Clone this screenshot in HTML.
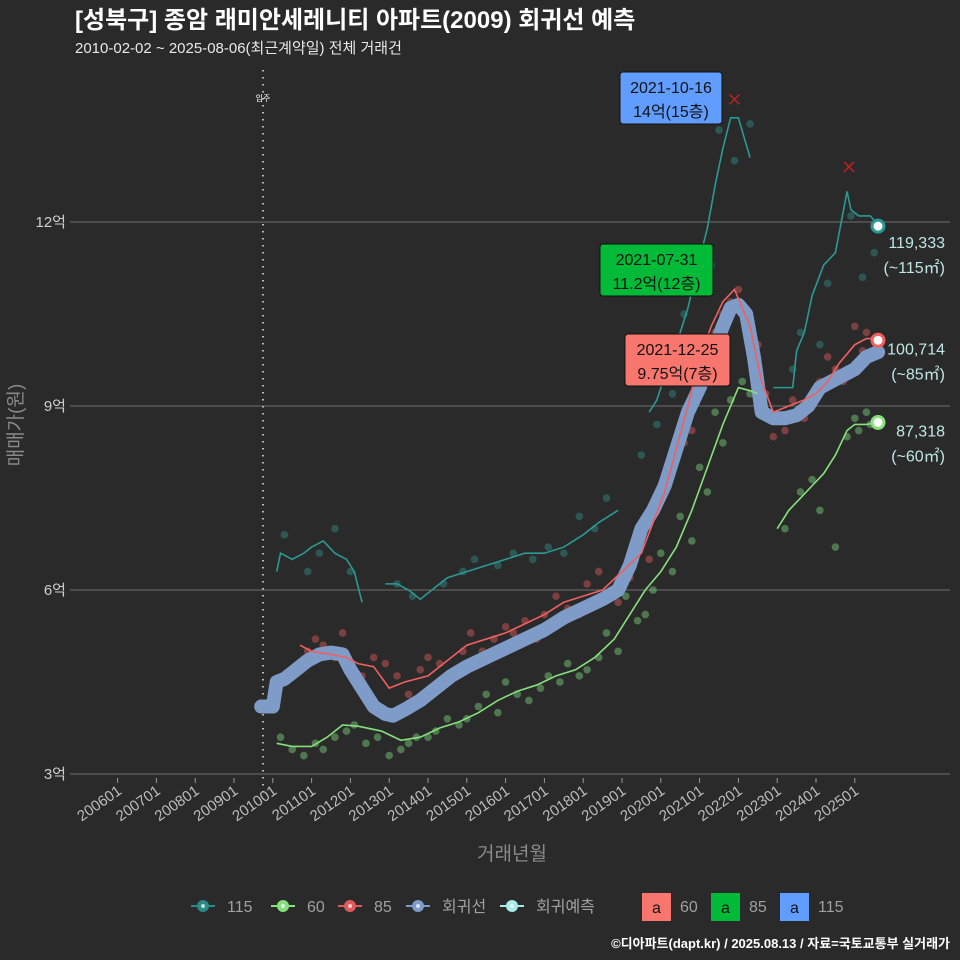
<!DOCTYPE html>
<html><head><meta charset="utf-8">
<style>
body{margin:0;background:#2a2a2b;}
svg{display:block;font-family:"Liberation Sans","Noto Sans CJK KR",sans-serif;}
</style></head>
<body>
<svg id="chart" width="960" height="960" viewBox="0 0 960 960">
<rect x="0" y="0" width="960" height="960" fill="#2a2a2b"/>
<text x="75" y="28" fill="#ffffff" font-size="24" font-weight="bold">[성북구] 종암 래미안세레니티 아파트(2009) 회귀선 예측</text>
<text x="75" y="53" fill="#e8e8e8" font-size="15">2010-02-02 ~ 2025-08-06(최근계약일) 전체 거래건</text>
<g id="grid"></g>
<g id="axes"></g>
<g id="series"></g>
<g id="notes"></g>
<text transform="translate(22,425) rotate(-90)" text-anchor="middle" fill="#8a8a8a" font-size="19">매매가(원)</text>
<text x="512" y="860" text-anchor="middle" fill="#8a8a8a" font-size="19">거래년월</text>
<g id="legend"></g>
<text x="950" y="948" text-anchor="end" fill="#ffffff" font-size="13" font-weight="bold">©디아파트(dapt.kr) / 2025.08.13 / 자료=국토교통부 실거래가</text>
</svg>
<script>
// ---- data ----
const yTicks=[3,6,9,12];
const yTickLabels=["3억","6억","9억","12억"];
const xTickYears=[2006,2007,2008,2009,2010,2011,2012,2013,2014,2015,2016,2017,2018,2019,2020,2021,2022,2023,2024,2025];
const xTickLabels=["200601","200701","200801","200901","201001","201101","201201","201301","201401","201501","201601","201701","201801","201901","202001","202101","202201","202301","202401","202501"];

const regDates=[2009.7,2009.9,2010.0,2010.1,2010.3,2010.6,2010.9,2011.2,2011.5,2011.8,2012.0,2012.3,2012.6,2012.9,2013.1,2013.4,2013.8,2014.2,2014.6,2015.0,2015.5,2016.0,2016.5,2017.0,2017.5,2018.0,2018.5,2018.9,2019.2,2019.5,2019.8,2020.1,2020.4,2020.7,2021.0,2021.3,2021.6,2021.8,2022.0,2022.2,2022.4,2022.6,2022.9,2023.2,2023.5,2023.8,2024.1,2024.4,2024.7,2025.0,2025.3,2025.6];
const regValues=[4.1,4.1,4.1,4.5,4.55,4.7,4.85,4.95,4.98,4.95,4.7,4.4,4.1,3.98,3.95,4.05,4.2,4.4,4.6,4.75,4.9,5.05,5.2,5.35,5.55,5.7,5.85,6.0,6.4,7.0,7.3,7.7,8.3,8.9,9.3,9.8,10.3,10.6,10.65,10.5,9.8,8.9,8.8,8.8,8.85,9.0,9.3,9.4,9.5,9.6,9.8,9.88];

const s115Dates=[[2010.1,2010.2,2010.5,2010.8,2011.0,2011.3,2011.6,2011.9,2012.1,2012.3],
 [2012.9,2013.2,2013.5,2013.8,2014.1,2014.5,2015.0,2015.5,2016.0,2016.5,2017.0,2017.5,2018.0,2018.4,2018.9],
 [2019.7,2019.9,2020.1,2020.4,2020.7,2021.0,2021.2,2021.4,2021.6,2021.8,2022.0,2022.3],
 [2022.9,2023.1,2023.4,2023.5,2023.7,2023.9,2024.2,2024.5,2024.8,2024.9,2025.1,2025.4,2025.6]];
const s115Values=[[6.3,6.6,6.5,6.6,6.7,6.8,6.6,6.5,6.3,5.8],
 [6.1,6.1,6.0,5.85,6.0,6.2,6.3,6.4,6.5,6.6,6.6,6.7,6.9,7.1,7.3],
 [8.9,9.1,9.5,10.0,10.6,11.4,11.9,12.6,13.2,13.7,13.7,13.05],
 [9.3,9.3,9.3,9.9,10.2,10.8,11.3,11.5,12.5,12.2,12.1,12.1,11.95]];
const s85Dates=[[2010.7,2011.0,2011.5,2011.9,2012.2,2012.6,2013.0,2013.4,2014.0,2014.5,2015.0,2015.5,2016.0,2016.5,2017.0,2017.5,2018.0,2018.5,2019.0,2019.5,2019.8,2020.1,2020.4,2020.7,2021.0,2021.3,2021.6,2021.9,2022.1,2022.3,2022.6,2022.9,2023.3,2023.7,2024.0,2024.3,2024.6,2025.0,2025.3,2025.6]];
const s85Values=[[5.1,5.0,4.95,4.9,4.8,4.75,4.4,4.5,4.6,4.85,5.1,5.2,5.3,5.45,5.6,5.8,5.9,6.0,6.3,6.6,7.1,7.6,8.3,9.0,9.8,10.3,10.7,10.9,10.6,10.3,9.4,8.9,9.0,9.1,9.2,9.4,9.7,10.0,10.1,10.1]];
const s60Dates=[[2010.1,2010.5,2011.0,2011.4,2011.8,2012.2,2012.8,2013.3,2013.8,2014.3,2014.8,2015.3,2015.8,2016.3,2016.8,2017.3,2017.8,2018.3,2018.8,2019.2,2019.6,2020.0,2020.4,2020.8,2021.2,2021.6,2022.0,2022.3,2022.5],
 [2023.0,2023.3,2023.6,2023.9,2024.2,2024.5,2024.8,2025.0,2025.3,2025.6]];
const s60Values=[[3.5,3.45,3.45,3.6,3.8,3.78,3.7,3.55,3.6,3.75,3.85,4.0,4.2,4.35,4.45,4.6,4.7,4.9,5.2,5.6,6.0,6.3,6.7,7.3,8.0,8.7,9.3,9.25,9.2],
 [7.0,7.3,7.5,7.7,7.9,8.2,8.6,8.7,8.7,8.73]];

const pts115Dates=[2010.3,2010.9,2011.6,2012.0,2011.2,2013.6,2013.2,2014.4,2014.9,2015.2,2015.8,2016.2,2016.7,2017.1,2017.5,2017.9,2018.3,2018.6,2019.5,2019.9,2020.0,2020.3,2020.6,2021.1,2021.3,2021.5,2021.9,2022.3,2023.4,2023.6,2024.1,2024.3,2024.9,2025.2,2025.5];
const pts115Values=[6.9,6.3,7.0,6.3,6.6,5.9,6.1,6.1,6.3,6.5,6.4,6.6,6.5,6.7,6.6,7.2,7.0,7.5,8.2,8.7,9.6,9.2,10.5,11.0,11.3,13.5,13.0,13.6,9.6,10.2,10.0,11.0,12.1,11.1,11.5];
const pts85Dates=[2010.9,2011.1,2011.3,2011.6,2011.8,2012.3,2012.6,2012.9,2013.2,2013.5,2013.8,2014.0,2014.3,2014.6,2014.9,2015.1,2015.4,2015.7,2016.0,2016.2,2016.5,2016.8,2017.0,2017.3,2017.6,2017.9,2018.1,2018.4,2018.7,2018.9,2019.2,2019.4,2019.7,2019.9,2020.1,2020.3,2020.6,2020.8,2021.0,2021.2,2021.4,2021.6,2021.8,2022.0,2022.3,2022.5,2022.7,2022.9,2023.2,2023.4,2023.7,2023.9,2024.1,2024.3,2024.5,2024.7,2025.0,2025.2,2025.3,2025.5];
const pts85Values=[5.0,5.2,5.1,4.9,5.3,4.6,4.9,4.8,4.6,4.3,4.7,4.9,4.8,4.6,5.0,5.3,5.0,5.2,5.4,5.3,5.5,5.2,5.6,5.9,5.7,5.6,6.1,6.3,5.9,5.8,6.2,6.9,6.5,7.3,7.6,8.1,8.4,8.6,9.2,9.9,10.2,10.5,10.7,10.9,10.4,10.0,9.2,8.5,8.6,9.1,8.8,9.0,9.4,9.8,9.6,9.4,10.3,9.9,10.2,10.1];
const pts60Dates=[2010.2,2010.5,2010.8,2011.1,2011.3,2011.6,2011.9,2012.1,2012.4,2012.7,2013.0,2013.3,2013.5,2013.7,2014.0,2014.2,2014.5,2014.8,2015.0,2015.3,2015.5,2015.8,2016.0,2016.3,2016.6,2016.9,2017.1,2017.4,2017.6,2017.9,2018.1,2018.4,2018.6,2018.9,2019.1,2019.4,2019.6,2019.8,2020.0,2020.3,2020.5,2020.8,2021.0,2021.2,2021.4,2021.6,2021.8,2022.1,2022.3,2023.2,2023.6,2023.9,2024.1,2024.5,2024.8,2025.0,2025.1,2025.3,2025.4];
const pts60Values=[3.6,3.4,3.3,3.5,3.4,3.6,3.7,3.8,3.5,3.6,3.3,3.4,3.5,3.6,3.6,3.7,3.9,3.8,3.9,4.1,4.3,4.0,4.5,4.3,4.2,4.4,4.6,4.5,4.8,4.6,4.7,4.9,5.3,5.0,5.9,5.5,5.6,6.0,6.6,6.3,7.2,6.8,8.0,7.6,8.9,8.4,9.1,9.4,9.2,7.0,7.6,7.8,7.3,6.7,8.5,8.8,8.6,8.9,8.7];

const endValues=[11.9333,10.0714,8.7318];
const endLabels=["119,333","100,714","87,318"];
const endAreas=["(~115㎡)","(~85㎡)","(~60㎡)"];
const noteDates=["2021-10-16","2021-07-31","2021-12-25"];
const noteTexts=["14억(15층)","11.2억(12층)","9.75억(7층)"];

// ---- scales ----
const X=d=>117.6+(d-2006)*38.8;
const Y=v=>774-(v-3)*61.33;
const NS="http://www.w3.org/2000/svg";
function mk(tag,attrs,parent){const e=document.createElementNS(NS,tag);for(const k in attrs)e.setAttribute(k,attrs[k]);parent.appendChild(e);return e;}
const grid=document.getElementById('grid'),axes=document.getElementById('axes'),series=document.getElementById('series'),notes=document.getElementById('notes'),legend=document.getElementById('legend');

yTicks.forEach((t,i)=>{
 const l=mk('line',{x1:70,x2:950,y1:Y(t),y2:Y(t),stroke:'#6e6e6e','stroke-width':1},grid);
 
 
 const tx=mk('text',{x:66,y:Y(t)+5,'text-anchor':'end',fill:'#cfcfcf','font-size':15},axes);
 tx.textContent=yTickLabels[i];
 
 
});
xTickYears.forEach((t,i)=>{
 const l=mk('line',{x1:X(t),x2:X(t),y1:778,y2:783,stroke:'#9a9a9a'},axes);
 
 
 const tx=mk('text',{x:X(t)+5,y:793,'text-anchor':'end',fill:'#bdbdbd','font-size':15,transform:`rotate(-35 ${X(t)+5} 793)`},axes);
 tx.textContent=xTickLabels[i];
 
 
});
const mv=mk('line',{x1:263,x2:263,y1:70,y2:795,stroke:'#bbbbbb','stroke-width':2,'stroke-dasharray':'1.5 5.5'},grid);


const mvt=mk('text',{x:263,y:101,'text-anchor':'middle',fill:'#ffffff','font-size':8},grid);
mvt.textContent='입주';



function pts(ds,vs,color,name){
 ds.forEach((d,i)=>{const c=mk('circle',{cx:X(d),cy:Y(vs[i]),r:3.8,fill:color,opacity:0.45},series);
 
 });
}
pts(pts115Dates,pts115Values,'#2f8f8a','point-115');
pts(pts85Dates,pts85Values,'#e05a5a','point-85');
pts(pts60Dates,pts60Values,'#7ed67e','point-60');

const reg=mk('polyline',{points:regDates.map((d,i)=>X(d)+','+Y(regValues[i])).join(' '),fill:'none',stroke:'#7f9bc8','stroke-width':14,'stroke-linejoin':'round','stroke-linecap':'round'},series);



function lines(dd,vv,color,name){
 dd.forEach((ds,j)=>{const p=mk('polyline',{points:ds.map((d,i)=>X(d)+','+Y(vv[j][i])).join(' '),fill:'none',stroke:color,'stroke-width':1.6},series);
 
 });
}
lines(s115Dates,s115Values,'#2a9a94','line-115');
lines(s85Dates,s85Values,'#f06060','line-85');
lines(s60Dates,s60Values,'#86e07c','line-60');

[[2021.9,14.0],[2024.85,12.9]].forEach(m=>{
 const x=X(m[0]),y=Y(m[1]);
 const p=mk('path',{d:`M${x-5},${y-5}L${x+5},${y+5}M${x-5},${y+5}L${x+5},${y-5}`,stroke:'#c02020','stroke-width':1.5},series);
 
 
});

const endColors=['#2a9a94','#f06060','#86e07c'];
endValues.forEach((v,i)=>{
 const y=Y(v);
 const c=mk('circle',{cx:878,cy:y,r:6,fill:'#ffffff',stroke:endColors[i],'stroke-width':3},series);
 
 
 const t1=mk('text',{x:945,y:y+22-(i==0?0:8),'text-anchor':'end',fill:'#bfe6e6','font-size':16},series);
 t1.textContent=endLabels[i];
 
 
 const t2=mk('text',{x:945,y:y+47-(i==0?0:8),'text-anchor':'end',fill:'#bfe6e6','font-size':16},series);
 t2.textContent=endAreas[i];
 
 
});

const boxes=[[620,72,102,'#619cff'],[600,244,113,'#00ba38'],[625,334,105,'#f8766d']];
boxes.forEach((b,i)=>{
 const r=mk('rect',{x:b[0],y:b[1],width:b[2],height:52,rx:3,fill:b[3],stroke:'#111','stroke-width':1},notes);
 
 
 const t1=mk('text',{x:b[0]+b[2]/2,y:b[1]+21,'text-anchor':'middle',fill:'#111','font-size':16},notes);
 t1.textContent=noteDates[i];
 
 
 const t2=mk('text',{x:b[0]+b[2]/2,y:b[1]+45,'text-anchor':'middle',fill:'#111','font-size':16},notes);
 t2.textContent=noteTexts[i];
 
 
});

const legItems=[['#2a8a86','115',203],['#86e07c','60',283],['#e05a5a','85',350],['#7f9bc8','회귀선',418],['#a8ece8','회귀예측',512]];
legItems.forEach(it=>{
 const g=mk('g',{},legend);
 
 
 mk('line',{x1:it[2]-12,x2:it[2]+12,y1:906,y2:906,stroke:it[0],'stroke-width':2},g);
 mk('circle',{cx:it[2],cy:906,r:6,fill:it[0]},g);
 mk('circle',{cx:it[2],cy:906,r:2,fill:'#ffffff',opacity:0.7},g);
 const t=mk('text',{x:it[2]+24,y:912,fill:'#a0a0a0','font-size':16},g);
 t.textContent=it[1];
});
const legBoxes=[['#f8766d','60',642],['#00ba38','85',711],['#619cff','115',780]];
legBoxes.forEach(it=>{
 const g=mk('g',{},legend);
 
 
 mk('rect',{x:it[2],y:893,width:29,height:28,fill:it[0]},g);
 const a=mk('text',{x:it[2]+14.5,y:913,'text-anchor':'middle',fill:'#111','font-size':16},g);
 a.textContent='a';
 const t=mk('text',{x:it[2]+38,y:912,fill:'#a0a0a0','font-size':16},g);
 t.textContent=it[1];
});
</script>
</body></html>
